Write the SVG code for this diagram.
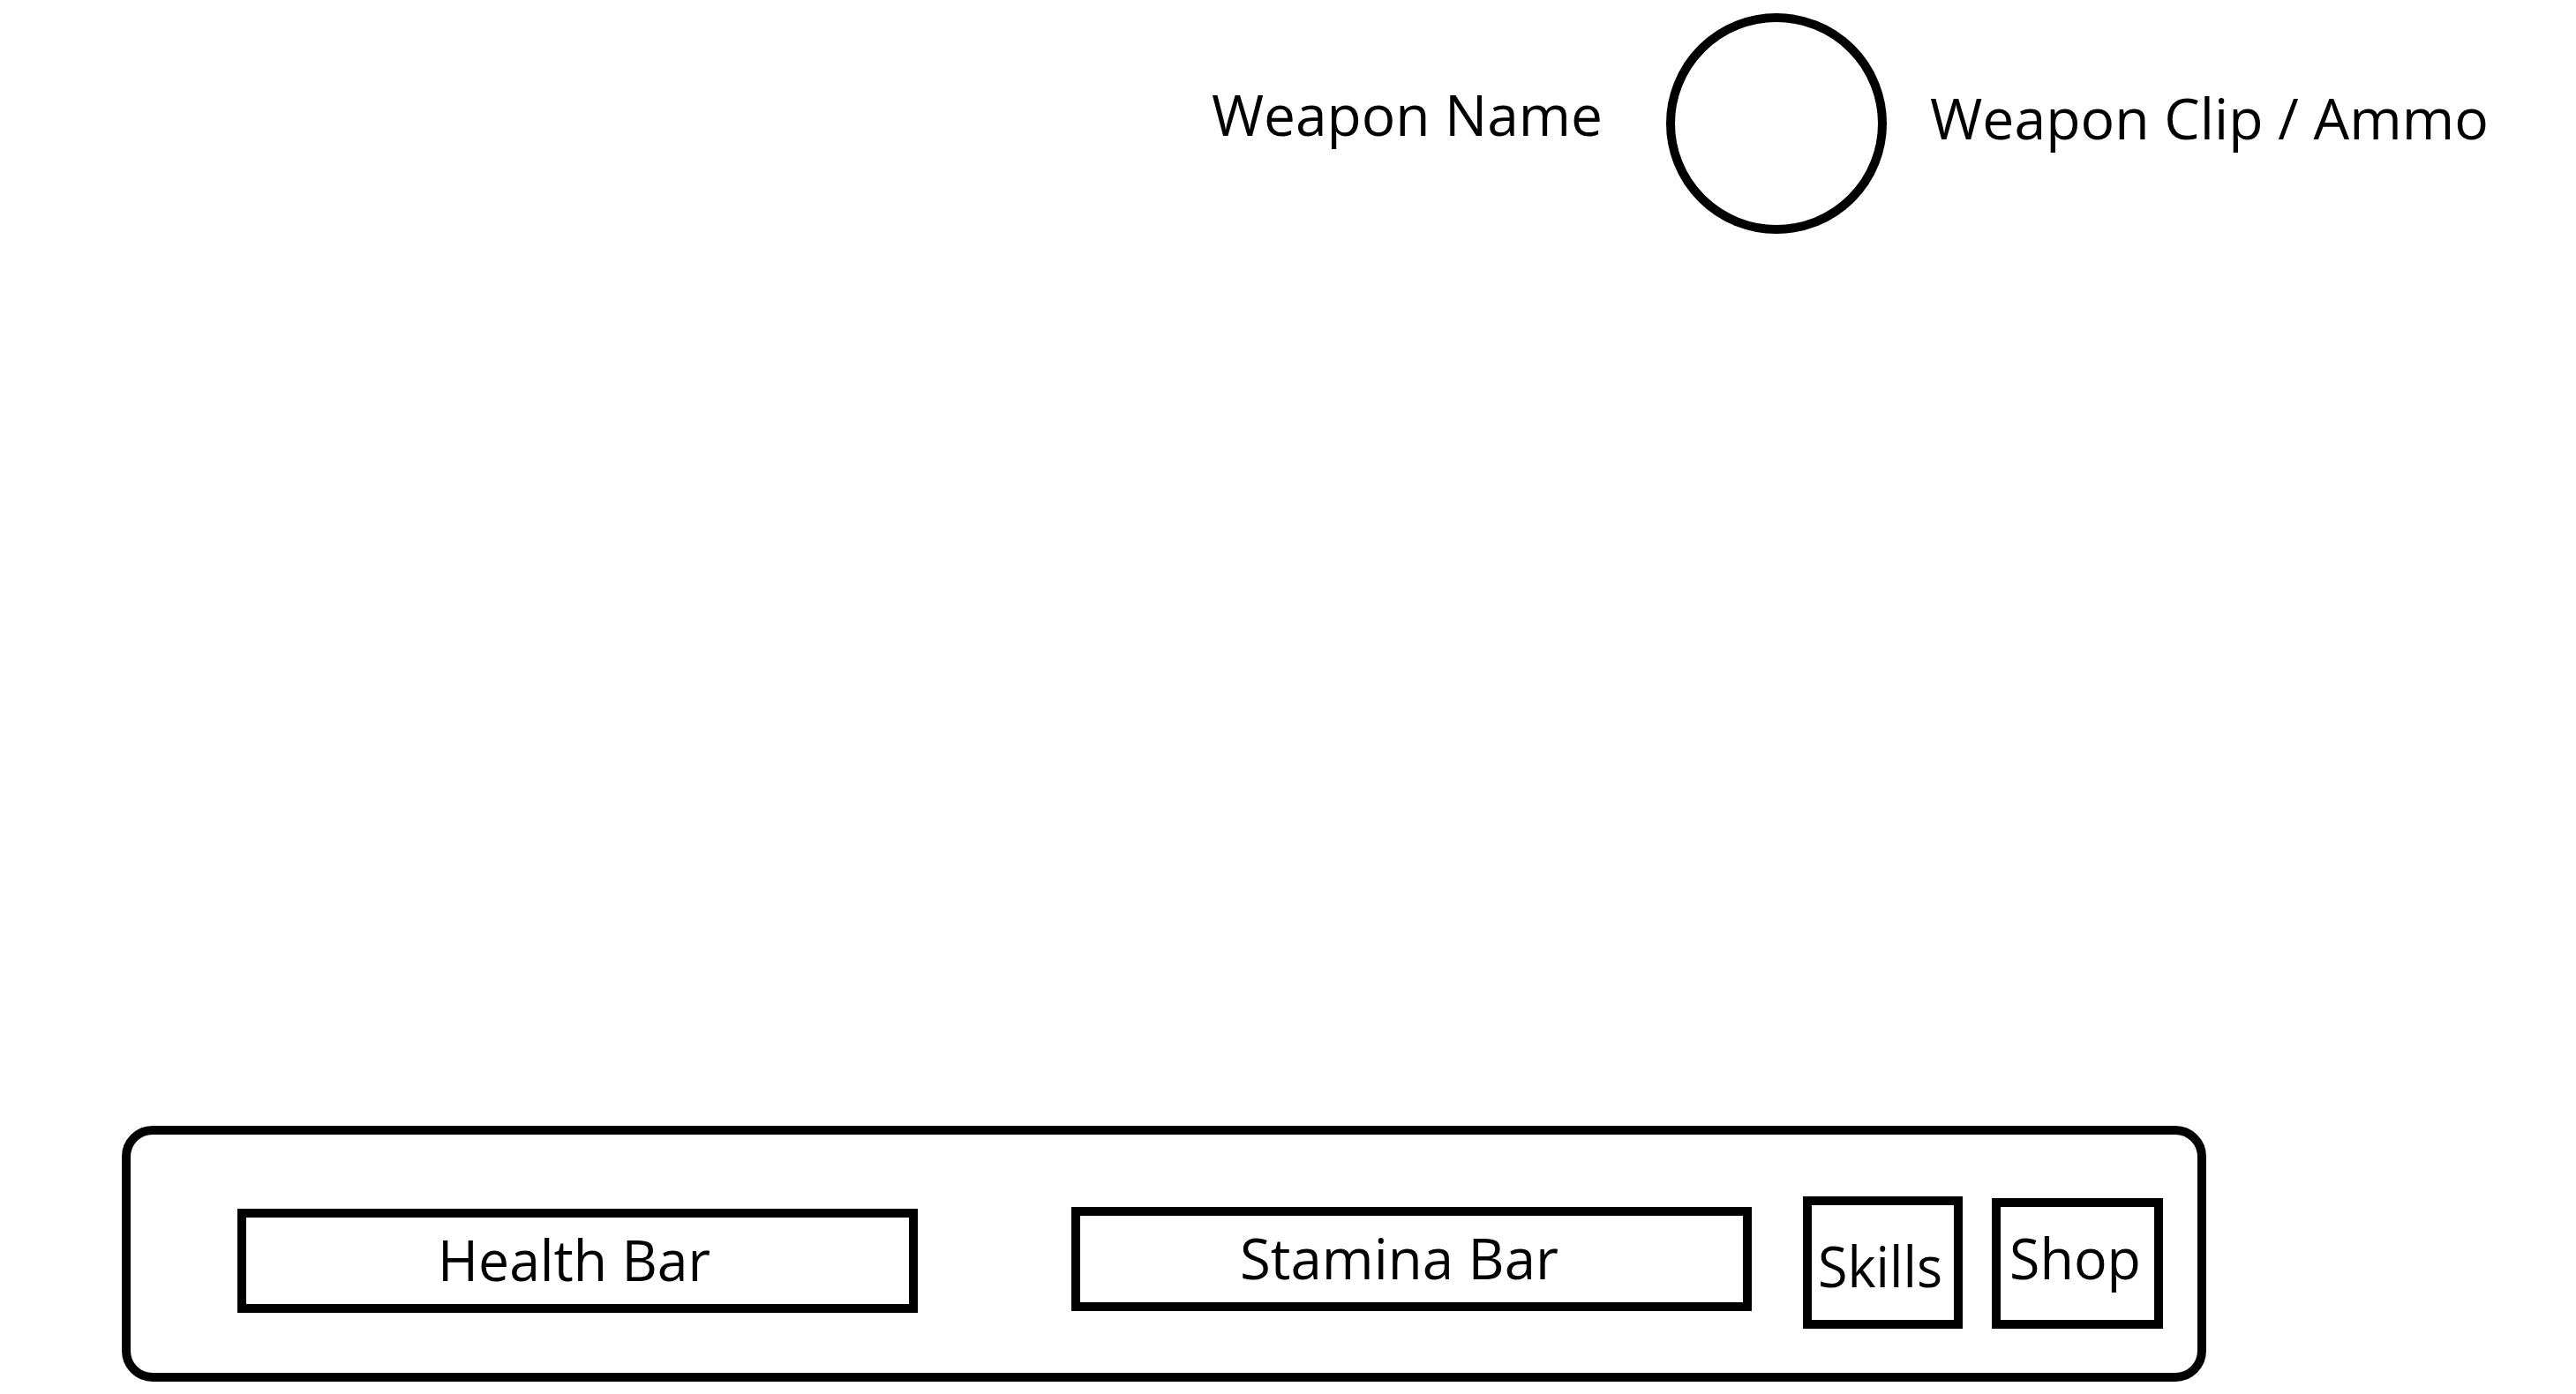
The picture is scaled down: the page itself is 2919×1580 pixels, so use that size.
<svg xmlns="http://www.w3.org/2000/svg" width="2919" height="1580" viewBox="0 0 2919 1580">
<style>
.shape{fill:#fff;stroke:#000;stroke-width:10}
.lbl{font-family:"Open Sans","Noto Sans","Liberation Sans",sans-serif;fill:#000;font-size:64px}
</style>
<rect width="2919" height="1580" fill="#fff"/>
<g id="weapon-name"><text class="lbl" x="1373" y="154" textLength="443" lengthAdjust="spacingAndGlyphs">Weapon Name</text></g>
<g id="weapon-icon"><circle class="shape" cx="2013" cy="140" r="120"/></g>
<g id="weapon-ammo"><text class="lbl" x="2187" y="158" textLength="633" lengthAdjust="spacingAndGlyphs">Weapon Clip / Ammo</text></g>
<g id="hud-panel"><rect class="shape" x="143" y="1281" width="2352" height="280" rx="30" ry="30"/></g>
<g id="health-bar"><rect class="shape" x="274" y="1375" width="761" height="108"/><text class="lbl" x="496" y="1452" font-size="66" textLength="309" lengthAdjust="spacingAndGlyphs">Health Bar</text></g>
<g id="stamina-bar"><rect class="shape" x="1219" y="1373" width="761" height="108"/><text class="lbl" x="1405" y="1450" font-size="66" textLength="361" lengthAdjust="spacingAndGlyphs">Stamina Bar</text></g>
<g id="skills"><rect class="shape" x="2048" y="1361" width="171" height="140"/><text class="lbl" x="2060" y="1459" font-size="66" textLength="141" lengthAdjust="spacingAndGlyphs">Skills</text></g>
<g id="shop"><rect class="shape" x="2262" y="1363" width="184" height="138"/><text class="lbl" x="2277" y="1450" font-size="66" textLength="149" lengthAdjust="spacingAndGlyphs">Shop</text></g>
<g id="connectors"></g>
</svg>
